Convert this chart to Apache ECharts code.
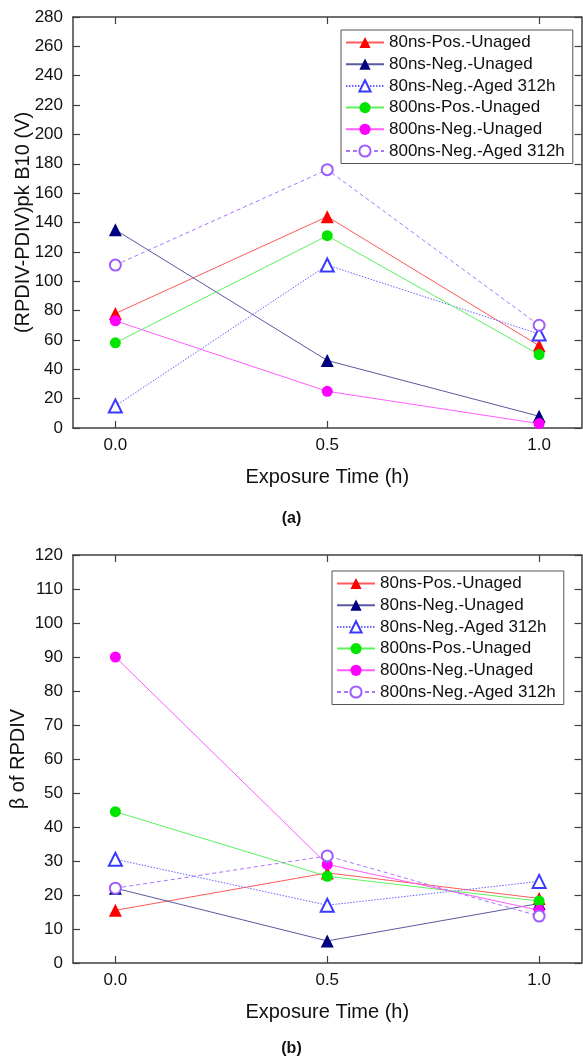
<!DOCTYPE html>
<html>
<head>
<meta charset="utf-8">
<script src="https://cdn.jsdelivr.net/npm/echarts@6/dist/echarts.min.js"></script>
<style>
  html, body { margin: 0; padding: 0; background: #fff; }
  #chart { width: 583px; height: 1060px; }
</style>
</head>
<body>
<div id="chart"></div>
<script>
// Exposure time (h) on the x axis, shared by both panels
const times = [0, 0.5, 1.0];
const xTickValues = [0, 0.5, 1.0];

const seriesNames = [
  '80ns-Pos.-Unaged',
  '80ns-Neg.-Unaged',
  '80ns-Neg.-Aged 312h',
  '800ns-Pos.-Unaged',
  '800ns-Neg.-Unaged',
  '800ns-Neg.-Aged 312h'
];

// Panel (a): (RPDIV-PDIV)pk B10 in volts
const a_pos80Unaged  = [78, 144, 56];
const a_neg80Unaged  = [135, 46, 8];
const a_neg80Aged    = [15, 111, 64];
const a_pos800Unaged = [58, 131, 50];
const a_neg800Unaged = [73, 25, 3];
const a_neg800Aged   = [111, 176, 70];

// Panel (b): Weibull shape parameter beta of RPDIV
const b_pos80Unaged  = [15.5, 26.5, 19];
const b_neg80Unaged  = [22, 6.5, 17.5];
const b_neg80Aged    = [30.5, 17, 24];
const b_pos800Unaged = [44.5, 25.5, 18.2];
const b_neg800Unaged = [90, 29, 15.5];
const b_neg800Aged   = [22, 31.5, 13.8];

const panelA = [a_pos80Unaged, a_neg80Unaged, a_neg80Aged, a_pos800Unaged, a_neg800Unaged, a_neg800Aged];
const panelB = [b_pos80Unaged, b_neg80Unaged, b_neg80Aged, b_pos800Unaged, b_neg800Unaged, b_neg800Aged];

const FONT = "'Liberation Sans', Arial, sans-serif";
const AXIS_COLOR = '#404040';

// Marker / line look for each series
const styles = [
  { symbol: 'triangle',      size: 13, mark: '#ff0000', line: '#ff5a5a', type: 'solid' },
  { symbol: 'triangle',      size: 13, mark: '#000080', line: '#5a5aa0', type: 'solid' },
  { symbol: 'emptyTriangle', size: 13, mark: '#3a3aff', line: '#6464ff', type: [1.5, 1.5] },
  { symbol: 'circle',        size: 11, mark: '#00e600', line: '#5cf25c', type: 'solid' },
  { symbol: 'circle',        size: 11, mark: '#ff00ff', line: '#ff5cff', type: 'solid' },
  { symbol: 'emptyCircle',   size: 11, mark: '#9c5cff', line: '#a874ff', type: [4, 3] }
];

function makeSeries(values, gridIdx) {
  return values.map((vals, i) => {
    const s = styles[i];
    return {
      name: seriesNames[i],
      type: 'line',
      xAxisIndex: gridIdx * 2,
      yAxisIndex: gridIdx * 2,
      data: times.map((t, k) => [t, vals[k]]),
      symbol: s.symbol,
      symbolSize: s.size,
      showAllSymbol: true,
      itemStyle: { color: s.mark, borderColor: s.mark, borderWidth: s.symbol.startsWith('empty') ? 1.2 : 0 },
      lineStyle: { color: s.line, width: 1, type: s.type },
      emphasis: { disabled: true },
      animation: false,
      z: 3 + i
    };
  });
}

function xAxes(gridIdx) {
  const common = {
    type: 'value', gridIndex: gridIdx, min: -0.1, max: 1.1,
    splitLine: { show: false },
    axisLine: { show: true, onZero: false, lineStyle: { color: AXIS_COLOR, width: 1.5 } },
    axisTick: { show: true, inside: true, length: 7, customValues: xTickValues, lineStyle: { color: AXIS_COLOR, width: 1.2 } }
  };
  return [
    Object.assign({}, common, {
      position: 'bottom',
      name: 'Exposure Time (h)',
      nameLocation: 'middle',
      nameGap: 39,
      nameMoveOverlap: false,
      nameTextStyle: { fontFamily: FONT, fontSize: 20, color: '#111' },
      axisLabel: {
        show: true, margin: 9, customValues: xTickValues,
        fontFamily: FONT, fontSize: 17, color: '#111',
        formatter: v => v.toFixed(1)
      }
    }),
    Object.assign({}, common, { position: 'top', axisLabel: { show: false } })
  ];
}

function yAxes(gridIdx, max, interval, name, gap) {
  const common = {
    type: 'value', gridIndex: gridIdx, min: 0, max: max, interval: interval,
    splitLine: { show: false },
    axisLine: { show: true, onZero: false, lineStyle: { color: AXIS_COLOR, width: 1.5 } },
    axisTick: { show: true, inside: true, length: 7, lineStyle: { color: AXIS_COLOR, width: 1.2 } }
  };
  return [
    Object.assign({}, common, {
      position: 'left',
      name: name,
      nameLocation: 'middle',
      nameGap: gap,
      nameMoveOverlap: false,
      nameTextStyle: { fontFamily: FONT, fontSize: 20, color: '#111' },
      axisLabel: { show: true, margin: 10, fontFamily: FONT, fontSize: 17, color: '#111' }
    }),
    Object.assign({}, common, { position: 'right', axisLabel: { show: false } })
  ];
}

function legendAt(left, top) {
  return {
    show: true,
    orient: 'vertical',
    left: left, top: top,
    data: seriesNames,
    itemWidth: 38, itemHeight: 14,
    itemGap: 4.7,
    padding: [4, 8, 4, 4],
    borderColor: '#555', borderWidth: 1,
    backgroundColor: '#fff',
    selectedMode: false,
    textStyle: { fontFamily: FONT, fontSize: 17, color: '#111' }
  };
}

const chart = echarts.init(document.getElementById('chart'), null, { renderer: 'canvas' });
chart.setOption({
  animation: false,
  backgroundColor: '#fff',
  grid: [
    { left: 73, right: 1.5, top: 17, height: 411, containLabel: false, outerBoundsMode: 'none' },
    { left: 73, right: 1.5, top: 555, height: 408, containLabel: false, outerBoundsMode: 'none' }
  ],
  xAxis: xAxes(0).concat(xAxes(1)),
  yAxis: yAxes(0, 280, 20, '(RPDIV-PDIV)pk B10 (V)', 40).concat(yAxes(1, 120, 10, 'β of RPDIV', 45)),
  legend: [legendAt(341, 30), legendAt(332, 571)],
  graphic: [
    { type: 'text', left: 'center', top: 511, style: { text: '(a)', font: "bold 16px 'Liberation Sans', Arial, sans-serif", fill: '#111' } },
    { type: 'text', left: 'center', top: 1041, style: { text: '(b)', font: "bold 16px 'Liberation Sans', Arial, sans-serif", fill: '#111' } }
  ],
  series: makeSeries(panelA, 0).concat(makeSeries(panelB, 1))
});
</script>
</body>
</html>
